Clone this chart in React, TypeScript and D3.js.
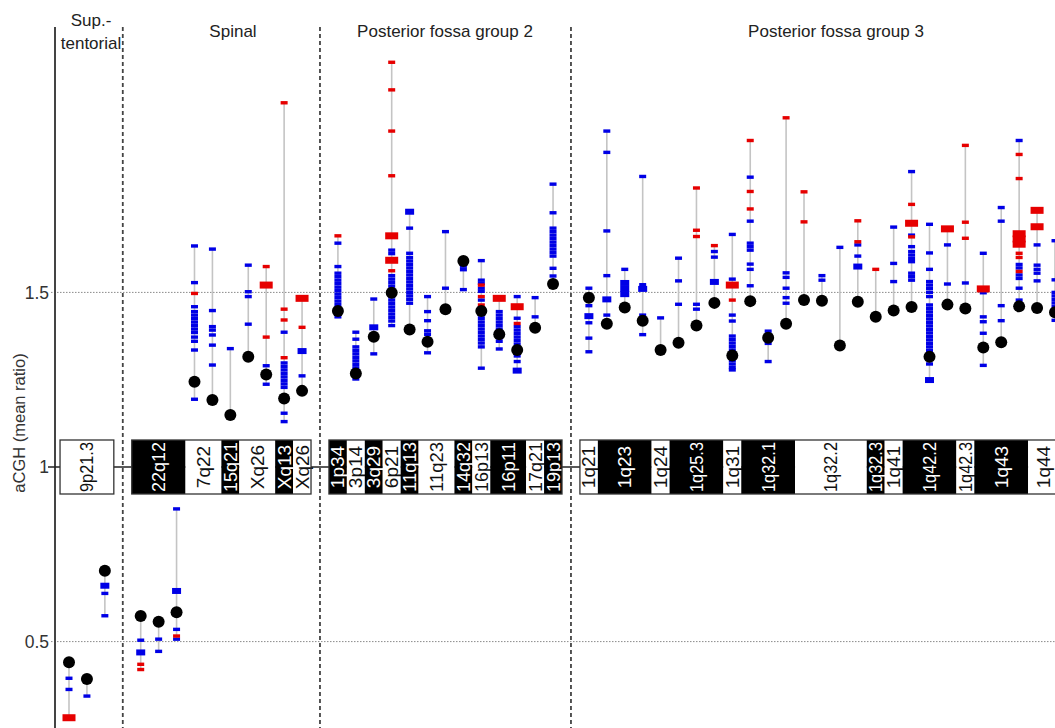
import React from 'react';
import * as d3 from 'd3';

const W = 1055;
const H = 728;

// ---------- data ----------
const groupTitles: string[][] = [['Sup.-', 'tentorial'], ['Spinal'], ['Posterior fossa group 2'], ['Posterior fossa group 3']];
const yTicks = [0.5, 1, 1.5];
const yTickLabels = ['0.5', '1', '1.5'];
const yLabel = 'aCGH (mean ratio)';

// slot index of each column (gaps between groups)
const slots = [0, 1, 2, 4, 5, 6, 7, 8, 9, 10, 11, 12, 13, 15, 16, 17, 18, 19, 20, 21, 22, 23, 24, 25, 26, 27,
  29, 30, 31, 32, 33, 34, 35, 36, 37, 38, 39, 40, 41, 42, 43, 44, 45, 46, 47, 48, 49, 50, 51, 52, 53, 54, 55];

const means = [0.441, 0.393, 0.703,
  0.573, 0.557, 0.584, 1.244, 1.192, 1.149, 1.316, 1.265, 1.196, 1.218,
  1.447, 1.268, 1.373, 1.499, 1.394, 1.359, 1.452, 1.590, 1.447, 1.380, 1.335, 1.399, 1.524,
  1.485, 1.410, 1.457, 1.419, 1.335, 1.356, 1.405, 1.470, 1.319, 1.475, 1.370, 1.410, 1.478,
  1.476, 1.348, 1.473, 1.430, 1.448, 1.458, 1.316, 1.465, 1.454, 1.342, 1.357, 1.460, 1.455, 1.443];

const blueMarks: number[][] = [
  [0.395, 0.363], [0.344], [0.638, 0.574],
  [0.504], [0.507, 0.472], [0.880, 0.535, 0.507],
  [1.633, 1.528, 1.459, 1.445, 1.435, 1.425, 1.415, 1.405, 1.395, 1.385, 1.372, 1.360, 1.335, 1.194],
  [1.624, 1.448, 1.402, 1.392, 1.378, 1.349, 1.292],
  [1.339],
  [1.578, 1.502, 1.488, 1.409],
  [1.290, 1.237],
  [1.386, 1.298, 1.288, 1.278, 1.268, 1.258, 1.248, 1.238, 1.228, 1.154, 1.130],
  [1.261],
  [1.641, 1.574, 1.555, 1.545, 1.535, 1.525, 1.515, 1.505, 1.495, 1.485, 1.475, 1.465, 1.455, 1.440, 1.430],
  [1.386, 1.366, 1.344, 1.334, 1.324, 1.314, 1.304, 1.294, 1.284, 1.274, 1.262, 1.252],
  [1.481, 1.324],
  [1.621, 1.611, 1.548, 1.538, 1.528, 1.518, 1.508, 1.488, 1.478, 1.468, 1.458, 1.448, 1.438, 1.428, 1.418, 1.405],
  [1.684, 1.612, 1.600, 1.590, 1.580, 1.570, 1.560, 1.550, 1.540, 1.530, 1.520, 1.510, 1.500, 1.490, 1.480, 1.469],
  [1.488, 1.445, 1.419, 1.390, 1.380, 1.327],
  [1.674, 1.512],
  [1.575, 1.565, 1.508],
  [1.591, 1.535, 1.526, 1.512, 1.503, 1.478, 1.455, 1.445, 1.435, 1.425, 1.415, 1.405, 1.395, 1.385, 1.375, 1.365, 1.355, 1.344, 1.283],
  [1.445, 1.435, 1.425, 1.415, 1.405, 1.395, 1.370, 1.360, 1.338],
  [1.488, 1.426, 1.402, 1.392, 1.382, 1.372, 1.362, 1.352, 1.342, 1.330, 1.318, 1.302],
  [1.485, 1.430],
  [1.810, 1.728, 1.684, 1.674, 1.664, 1.654, 1.644, 1.634, 1.624, 1.614, 1.604, 1.569, 1.547],
  [1.512, 1.462, 1.413, 1.369, 1.330],
  [1.962, 1.901, 1.676, 1.548, 1.435],
  [1.566],
  [1.832, 1.522, 1.435, 1.379],
  [1.427],
  [1.598, 1.533, 1.466],
  [1.466, 1.452],
  [1.617, 1.601],
  [1.666, 1.538, 1.435, 1.418, 1.375, 1.365, 1.355, 1.345, 1.335, 1.325, 1.315, 1.305, 1.295, 1.285, 1.278],
  [1.830, 1.704, 1.641, 1.631, 1.621, 1.581, 1.566, 1.519],
  [1.389, 1.354, 1.302],
  [1.556, 1.543, 1.512, 1.485, 1.469],
  [],
  [1.548, 1.535],
  [1.629],
  [1.636, 1.604],
  [],
  [1.687, 1.583, 1.531],
  [1.846, 1.664, 1.631, 1.617, 1.607, 1.597, 1.588, 1.555, 1.545, 1.535],
  [1.695, 1.613, 1.566, 1.531, 1.521, 1.511, 1.500, 1.488, 1.464, 1.454, 1.444, 1.434, 1.424, 1.414, 1.404, 1.394, 1.384, 1.374, 1.364, 1.354, 1.344, 1.334, 1.295],
  [1.636, 1.524],
  [1.527],
  [1.612, 1.499, 1.430, 1.416, 1.383, 1.291],
  [1.743, 1.704, 1.462, 1.419],
  [1.935, 1.580, 1.570, 1.550, 1.540, 1.512, 1.478],
  [1.636, 1.578, 1.566, 1.555, 1.533],
  [1.648, 1.536, 1.500, 1.490, 1.480, 1.470, 1.460, 1.420],
];

const redMarks: number[][] = [
  [], [], [],
  [0.435, 0.420], [], [0.516], [1.497], [], [], [], [1.574, 1.372], [2.043, 1.452, 1.421, 1.313], [1.400],
  [1.662], [], [], [2.159, 2.080, 1.962, 1.834, 1.562], [], [], [], [], [1.521, 1.488, 1.464], [], [1.411], [], [],
  [], [], [], [], [], [], [1.799, 1.678, 1.660], [1.634], [1.478], [1.935, 1.789, 1.739], [], [2.000], [1.788, 1.702],
  [], [], [1.705, 1.645], [1.566], [], [1.752, 1.659], [], [], [1.921, 1.701, 1.655], [], [], [1.895, 1.826, 1.612, 1.600, 1.560], [], [],
];

const blueBigMarks: number[][] = [
  [], [], [0.660],
  [0.469], [], [0.645], [], [], [], [], [], [], [1.332],
  [], [], [1.400], [], [1.731], [], [], [], [], [], [1.276], [], [],
  [1.432], [1.480], [1.527, 1.510, 1.495], [1.510], [], [], [], [1.530], [], [], [], [], [],
  [], [], [1.574], [], [], [], [1.249], [], [], [], [], [], [], [],
];

const redBigMarks: number[][] = [
  [0.282], [], [],
  [], [], [], [], [], [], [], [1.521], [], [1.483],
  [], [], [], [1.662, 1.592], [], [], [], [], [], [1.483], [1.459], [], [],
  [], [], [], [], [], [], [], [], [1.521], [], [], [], [],
  [], [], [], [], [], [1.698], [], [1.682], [], [1.510], [], [1.668, 1.653, 1.638], [1.735, 1.688], [],
];

// chromosome bands
const bandNames = ['9p21.3',
  '22q12', '7q22', '15q21', 'Xq26', 'Xq13', 'Xq26',
  '1p34', '3p14', '3q29', '6p21', '11q13', '11q23', '14q32', '16p13', '16p11', '17q21', '19p13',
  '1q21', '1q23', '1q24', '1q25.3', '1q31', '1q32.1', '1q32.2', '1q32.3', '1q41', '1q42.2', '1q42.3', '1q43', '1q44'];
const bandStart = [0, 4, 7, 9, 10, 12, 13, 15, 16, 17, 18, 19, 20, 22, 23, 24, 26, 27,
  29, 30, 33, 34, 37, 38, 41, 45, 46, 47, 50, 51, 54];
const bandEnd = [2, 6, 8, 9, 11, 12, 13, 15, 16, 17, 18, 19, 21, 22, 23, 25, 26, 27,
  29, 32, 33, 36, 37, 40, 44, 45, 46, 49, 50, 53, 55];
const bandDark = [false, true, false, true, false, true, false,
  true, false, true, false, true, false, true, false, true, false, true,
  false, true, false, true, false, true, false, true, false, true, false, true, false];
const bandGroup = [0, 1, 1, 1, 1, 1, 1, 2, 2, 2, 2, 2, 2, 2, 2, 2, 2, 2,
  3, 3, 3, 3, 3, 3, 3, 3, 3, 3, 3, 3, 3];

// group separators (slot positions)
const separatorSlots = [3, 14, 28];

const BLUE = '#0000e6';
const RED = '#e60000';
const FONT = '"Liberation Sans", Arial, Helvetica, sans-serif';

function approxWidth(s: string, fs: number) {
  let w = 0;
  for (const c of s) {
    if (c === '.') w += 0.278;
    else if (c === 'X') w += 0.667;
    else w += 0.556;
  }
  return w * fs;
}

export default function App() {
  const x = d3.scaleLinear().domain([0, 55]).range([69, 1055]);
  const y = d3.scaleLinear().domain([1, 1.5]).range([467, 292.4]);
  const half = (x(1) - x(0)) / 2;
  const axisX = 55;
  const topY = 27;
  const boxTop = 440;
  const boxBot = 494;
  const bandFs = 19;
  const maxLen = 50;

  const groupBoxes = d3.range(4).map((g) => {
    const idx = bandGroup.map((gg, i) => (gg === g ? i : -1)).filter((i) => i >= 0);
    const x0 = x(d3.min(idx, (i) => bandStart[i])!) - half;
    let x1 = x(d3.max(idx, (i) => bandEnd[i])!) + half;
    if (g === 3) x1 = W + 10;
    return { x0, x1 };
  });

  const headerX = [91, 233, 445, 836];

  return (
    <svg width={W} height={H} style={{ position: 'absolute', left: 0, top: 0, background: '#fff' }} fontFamily={FONT}>
      <rect x={0} y={0} width={W} height={H} fill="#fff" />
      {/* gridlines */}
      {[0.5, 1.5].map((v) => (
        <line key={v} x1={51} x2={W} y1={y(v)} y2={y(v)} stroke="#8a8a8a" strokeWidth={1} strokeDasharray="1.5 1.5" />
      ))}
      {/* separators */}
      {separatorSlots.map((s) => (
        <line key={s} x1={x(s)} x2={x(s)} y1={topY} y2={H} stroke="#444" strokeWidth={1.8} strokeDasharray="4 3" />
      ))}
      {/* axis */}
      <line x1={axisX} x2={axisX} y1={topY} y2={H} stroke="#444" strokeWidth={2} />
      {yTicks.map((v, i) => (
        <text key={v} x={49} y={y(v)} dy="0.35em" textAnchor="end" fontSize={17.5} fill="#333">{yTickLabels[i]}</text>
      ))}
      <text transform={`translate(19,423) rotate(-90)`} textAnchor="middle" dominantBaseline="central" fontSize={16.5} fill="#333">{yLabel}</text>
      {/* group titles */}
      {groupTitles.map((lines, g) => (
        <text key={g} textAnchor="middle" fontSize={17} fill="#222">
          {lines.map((ln, j) => (
            <tspan key={j} x={headerX[g]} y={lines.length === 1 ? 37 : 26 + j * 23}>{ln}</tspan>
          ))}
        </text>
      ))}
      {/* connecting line at ratio 1 */}
      <line x1={48} x2={W} y1={y(1)} y2={y(1)} stroke="#222" strokeWidth={1.5} />
      {/* bands */}
      {bandNames.map((name, i) => {
        const x0 = x(bandStart[i]) - half;
        const x1 = i === bandNames.length - 1 ? W + 10 : x(bandEnd[i]) + half;
        const cx = i === bandNames.length - 1 ? x(bandEnd[i]) - 12 : (x0 + x1) / 2;
        const w = approxWidth(name, bandFs);
        const extra = w > maxLen ? { textLength: maxLen, lengthAdjust: 'spacingAndGlyphs' } : {};
        return (
          <g key={i}>
            <rect x={x0} y={boxTop} width={x1 - x0} height={boxBot - boxTop} fill={bandDark[i] ? '#000' : '#fff'} />
            <text transform={`translate(${cx},${(boxTop + boxBot) / 2}) rotate(-90)`} textAnchor="middle"
              dominantBaseline="central" fontSize={bandFs} fill={bandDark[i] ? '#fff' : '#111'} {...extra}>{name}</text>
          </g>
        );
      })}
      {groupBoxes.map((b, g) => (
        <rect key={g} x={b.x0} y={boxTop} width={b.x1 - b.x0} height={boxBot - boxTop} fill="none" stroke="#333" strokeWidth={1.3} />
      ))}
      {/* columns */}
      {slots.map((s, i) => {
        const all = [means[i], ...blueMarks[i], ...redMarks[i], ...blueBigMarks[i], ...redBigMarks[i]];
        const lo = d3.min(all)!;
        const hi = d3.max(all)!;
        const cx = x(s);
        return (
          <g key={i}>
            <line x1={cx} x2={cx} y1={y(hi)} y2={y(lo)} stroke="#c4c4c4" strokeWidth={1.6} />
            {blueMarks[i].map((v, j) => (
              <rect key={'b' + j} x={cx - 3.5} y={y(v) - 1.7} width={7} height={3.4} fill={BLUE} />
            ))}
            {redMarks[i].map((v, j) => (
              <rect key={'r' + j} x={cx - 3.5} y={y(v) - 1.7} width={7} height={3.4} fill={RED} />
            ))}
            {blueBigMarks[i].map((v, j) => (
              <rect key={'B' + j} x={cx - 4.5} y={y(v) - 3} width={9} height={6} fill={BLUE} />
            ))}
            {redBigMarks[i].map((v, j) => (
              <rect key={'R' + j} x={cx - 6.5} y={y(v) - 3.5} width={13} height={7} fill={RED} />
            ))}
            <circle cx={cx} cy={y(means[i])} r={6} fill="#000" />
          </g>
        );
      })}
    </svg>
  );
}
